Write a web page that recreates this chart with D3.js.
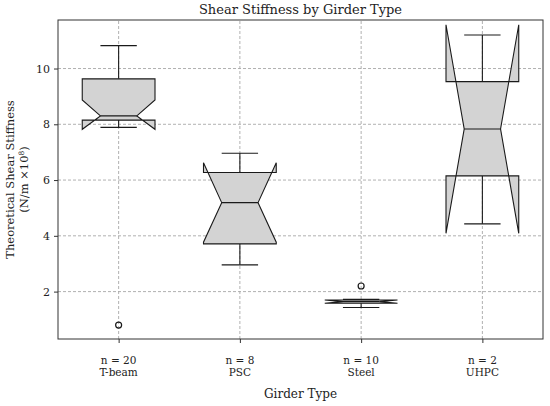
<!DOCTYPE html>
<html>
<head>
<meta charset="utf-8">
<script src="https://cdn.jsdelivr.net/npm/d3@7"></script>
<style>
  body { margin: 0; background: #fff; }
  svg { font-family: "DejaVu Serif", serif; }
  .grid line { stroke: #a8a8a8; stroke-width: 0.9; stroke-dasharray: 3,2; }
  .box { fill: #d3d3d3; stroke: #1a1a1a; stroke-width: 1.1; }
  .wh { stroke: #1a1a1a; stroke-width: 1.1; }
</style>
</head>
<body>
<script>
// box statistics (N/m x 10^8)
var girders   = ["T-beam", "PSC", "Steel", "UHPC"];
var counts    = [20, 8, 10, 2];
var q1s       = [8.15, 3.71, 1.58, 6.15];
var medians   = [8.30, 5.19, 1.64, 7.83];
var q3s       = [9.63, 6.27, 1.70, 9.53];
var whiskLo   = [7.89, 2.96, 1.43, 4.43];
var whiskHi   = [10.82, 6.96, 1.72, 11.20];
var notchLo   = [7.82, 3.77, 1.58, 4.09];
var notchHi   = [8.87, 6.62, 1.70, 11.57];
var outliers  = [[0.80], [], [2.20], []];
var yTicks    = [2, 4, 6, 8, 10];

var W = 550, H = 406;
var margin = {top: 20, right: 7, bottom: 67, left: 58};

var svg = d3.select("body").append("svg")
    .attr("width", W).attr("height", H);

var x = d3.scaleLinear().domain([0.5, 4.5]).range([margin.left, W - margin.right]);
var y = d3.scaleLinear().domain([0.3, 11.74]).range([H - margin.bottom, margin.top]);

var boxW = (x(1.6) - x(1));   // 0.6 of a slot
var half = boxW / 2;

/* grid */
var grid = svg.append("g").attr("class", "grid");
yTicks.forEach(function(t) {
    grid.append("line").attr("x1", x.range()[0]).attr("x2", x.range()[1])
        .attr("y1", y(t)).attr("y2", y(t));
});
girders.forEach(function(g, i) {
    grid.append("line").attr("y1", y.range()[0]).attr("y2", y.range()[1])
        .attr("x1", x(i + 1)).attr("x2", x(i + 1));
});

/* boxes */
girders.forEach(function(g, i) {
    var cx = x(i + 1);
    var l = cx - half, r = cx + half;
    var nl = cx - half / 2, nr = cx + half / 2;

    // whiskers
    svg.append("line").attr("class", "wh").attr("x1", cx).attr("x2", cx)
        .attr("y1", y(q1s[i])).attr("y2", y(whiskLo[i]));
    svg.append("line").attr("class", "wh").attr("x1", cx).attr("x2", cx)
        .attr("y1", y(q3s[i])).attr("y2", y(whiskHi[i]));
    svg.append("line").attr("class", "wh").attr("x1", nl).attr("x2", nr)
        .attr("y1", y(whiskLo[i])).attr("y2", y(whiskLo[i]));
    svg.append("line").attr("class", "wh").attr("x1", nl).attr("x2", nr)
        .attr("y1", y(whiskHi[i])).attr("y2", y(whiskHi[i]));

    // notched box, same vertex order as matplotlib
    var pts = [
        [l, q1s[i]], [l, notchLo[i]], [nl, medians[i]], [l, notchHi[i]], [l, q3s[i]],
        [r, q3s[i]], [r, notchHi[i]], [nr, medians[i]], [r, notchLo[i]], [r, q1s[i]]
    ];
    svg.append("path").attr("class", "box")
        .attr("d", d3.line().x(function(p) { return p[0]; }).y(function(p) { return y(p[1]); })(pts) + "Z");

    // median
    svg.append("line").attr("class", "wh").attr("x1", nl).attr("x2", nr)
        .attr("y1", y(medians[i])).attr("y2", y(medians[i]));

    outliers[i].forEach(function(v) {
        svg.append("circle").attr("cx", cx).attr("cy", y(v)).attr("r", 3)
            .attr("fill", "none").attr("stroke", "#1a1a1a").attr("stroke-width", 1.2);
    });
});

/* frame */
svg.append("rect").attr("x", x.range()[0]).attr("y", y.range()[1])
    .attr("width", x.range()[1] - x.range()[0]).attr("height", y.range()[0] - y.range()[1])
    .attr("fill", "none").attr("stroke", "#333").attr("stroke-width", 1);

/* y axis */
var yAxis = svg.append("g").attr("transform", "translate(" + x.range()[0] + ",0)")
    .call(d3.axisLeft(y).tickValues(yTicks).tickSize(4).tickPadding(4));
yAxis.select(".domain").remove();
yAxis.selectAll("text").attr("font-family", "DejaVu Serif").attr("font-size", 11).attr("fill", "#222");
yAxis.selectAll("line").attr("stroke", "#333");

/* x axis */
var xAxis = svg.append("g").attr("transform", "translate(0," + y.range()[0] + ")")
    .call(d3.axisBottom(x).tickValues([1, 2, 3, 4]).tickSize(4).tickFormat(""));
xAxis.select(".domain").remove();
xAxis.selectAll("line").attr("stroke", "#333");
girders.forEach(function(g, i) {
    var t = svg.append("text").attr("x", x(i + 1)).attr("y", y.range()[0] + 25)
        .attr("text-anchor", "middle").attr("font-size", 10.5).attr("fill", "#222");
    t.append("tspan").attr("x", x(i + 1)).text("n = " + counts[i]);
    t.append("tspan").attr("x", x(i + 1)).attr("dy", 12).text(g);
});

svg.append("text").attr("x", (x.range()[0] + x.range()[1]) / 2).attr("y", 398)
    .attr("text-anchor", "middle").attr("font-size", 12).attr("fill", "#222").text("Girder Type");

svg.append("text").attr("x", (x.range()[0] + x.range()[1]) / 2).attr("y", 14)
    .attr("text-anchor", "middle").attr("font-size", 13).attr("fill", "#222").text("Shear Stiffness by Girder Type");

var cy = (y.range()[0] + y.range()[1]) / 2;
var yl = svg.append("text").attr("transform", "translate(14," + cy + ") rotate(-90)")
    .attr("text-anchor", "middle").attr("font-size", 11.5).attr("fill", "#222");
yl.append("tspan").attr("x", 0).attr("y", 0).text("Theoretical Shear Stiffness");
var l2 = yl.append("tspan").attr("x", 0).attr("y", 14).text("(N/m \u00d710");
l2.append("tspan").attr("dy", -4).attr("font-size", 7.5).text("8");
l2.append("tspan").attr("dy", 4).text(")");
</script>
</body>
</html>
